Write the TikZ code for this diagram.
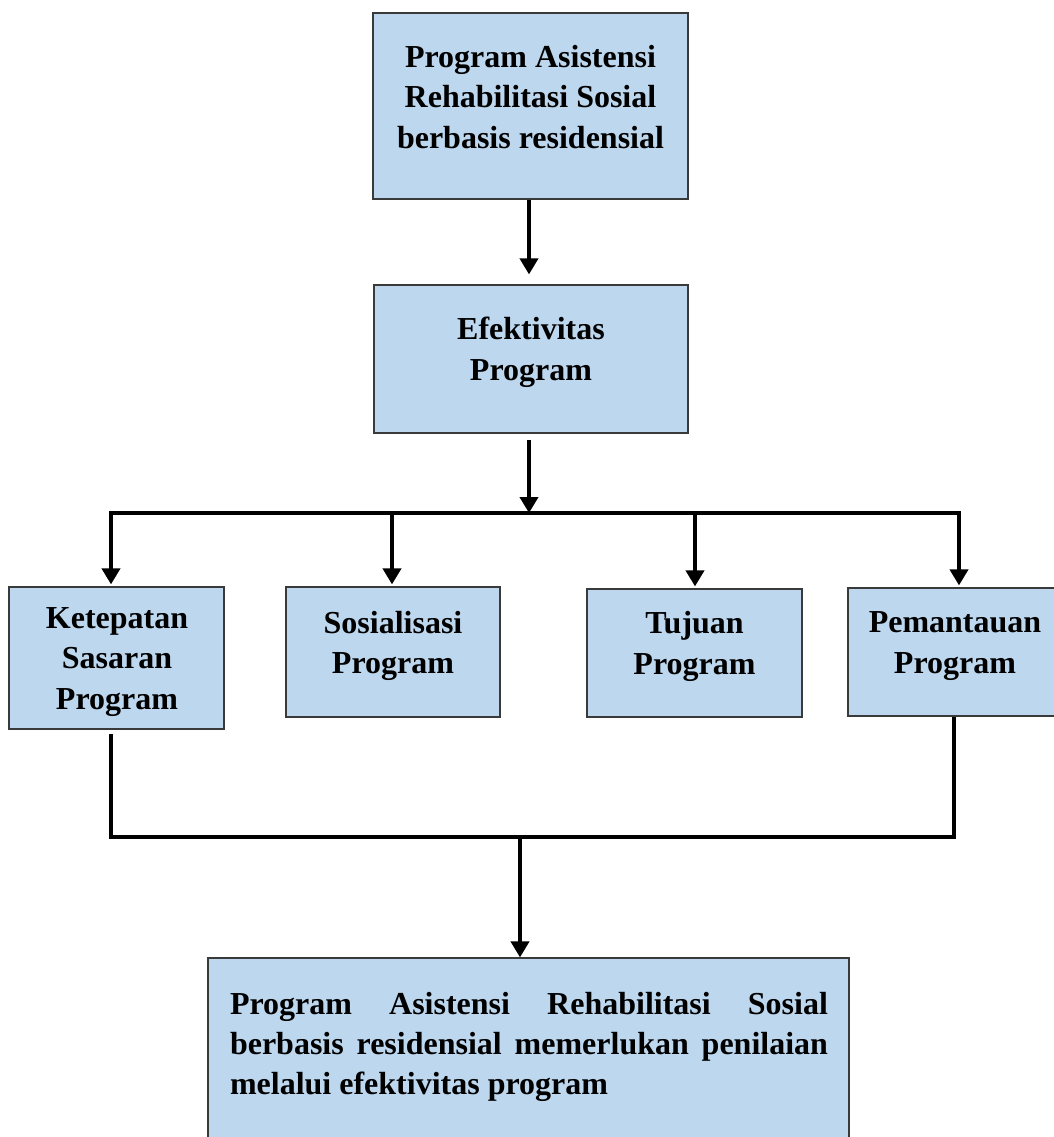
\documentclass[tikz,border=0pt]{standalone}
\usepackage{fontspec}
\setmainfont{Liberation Serif}
\usetikzlibrary{arrows.meta}
\definecolor{boxfill}{HTML}{BDD7EE}
\definecolor{boxline}{HTML}{3A3A3A}
\tikzset{
  boxnode/.style={draw=boxline, fill=boxfill, line width=1.2pt, inner sep=0pt},
  boxtext/.style={align=center, inner sep=0pt, font=\bfseries\fontsize{32}{40.5}\selectfont},
  conn/.style={line width=3.8pt, draw=black},
  arr/.style={conn, -{Triangle[width=18pt,length=16pt]}},
}
\begin{document}
\begin{tikzpicture}[x=1pt,y=-1pt]
\useasboundingbox (0,0) rectangle (1054,1137);
\clip (0,0) rectangle (1054,1137);
% boxes
\node[boxnode, minimum width=315pt, minimum height=186pt] (top) at (530.5,106) {};
\node[boxtext] (topT) at (530.5,97) {Program Asistensi\\Rehabilitasi Sosial\\berbasis residensial};
\node[boxnode, minimum width=314pt, minimum height=148pt] (efek) at (531,359) {};
\node[boxtext] (efekT) at (531,352.5) {Efektivitas\\Program};
\node[boxnode, minimum width=215pt, minimum height=142pt] (ket) at (116.5,658) {};
\node[boxtext] (ketT) at (117,662) {Ketepatan\\Sasaran\\Program};
\node[boxnode, minimum width=214pt, minimum height=130pt] (sos) at (393,652) {};
\node[boxtext] (sosT) at (393,646) {Sosialisasi\\Program};
\node[boxnode, minimum width=215pt, minimum height=128pt] (tuj) at (694.5,653) {};
\node[boxtext] (tujT) at (694.5,646.5) {Tujuan\\Program};
\node[boxnode, minimum width=214pt, minimum height=128pt] (pem) at (955,652) {};
\node[boxtext] (pemT) at (955,646) {Pemantauan\\Program};
\node[boxnode, minimum width=641pt, minimum height=190pt] (fin) at (528.5,1053) {};
\node[inner sep=0pt, text width=598pt, align=justify, font=\bfseries\fontsize{32}{40}\selectfont] (finT) at (529,1046.5)
  {Program Asistensi Rehabilitasi Sosial\linebreak berbasis residensial memerlukan penilaian\linebreak melalui efektivitas program};
% coordinates
\coordinate (bus) at (529,513);
\coordinate (busL) at (111,513);
\coordinate (busR) at (959,513);
\coordinate (busS) at (392,513);
\coordinate (busT) at (695,513);
\coordinate (jL) at (111,837);
\coordinate (jR) at (954,837);
\coordinate (jM) at (520,837);
% connectors
\draw[arr, shorten >=10pt] (top.south -| bus) -- (bus |- efek.north);
\draw[arr, shorten <=6pt] (efek.south -| bus) -- (bus);
\draw[conn, line cap=rect] (busL) -- (busR);
\draw[arr, shorten >=2pt] (busL) -- (busL |- ket.north);
\draw[arr, shorten >=2pt] (busS) -- (busS |- sos.north);
\draw[arr, shorten >=2pt] (busT) -- (busT |- tuj.north);
\draw[arr, shorten >=2pt] (busR) -- (busR |- pem.north);
\draw[conn, line join=miter] ([yshift=-4pt]jL |- ket.south) -- (jL) -- (jR) -- (jR |- pem.south);
\draw[arr] (jM) -- (jM |- fin.north);
\end{tikzpicture}
\end{document}
